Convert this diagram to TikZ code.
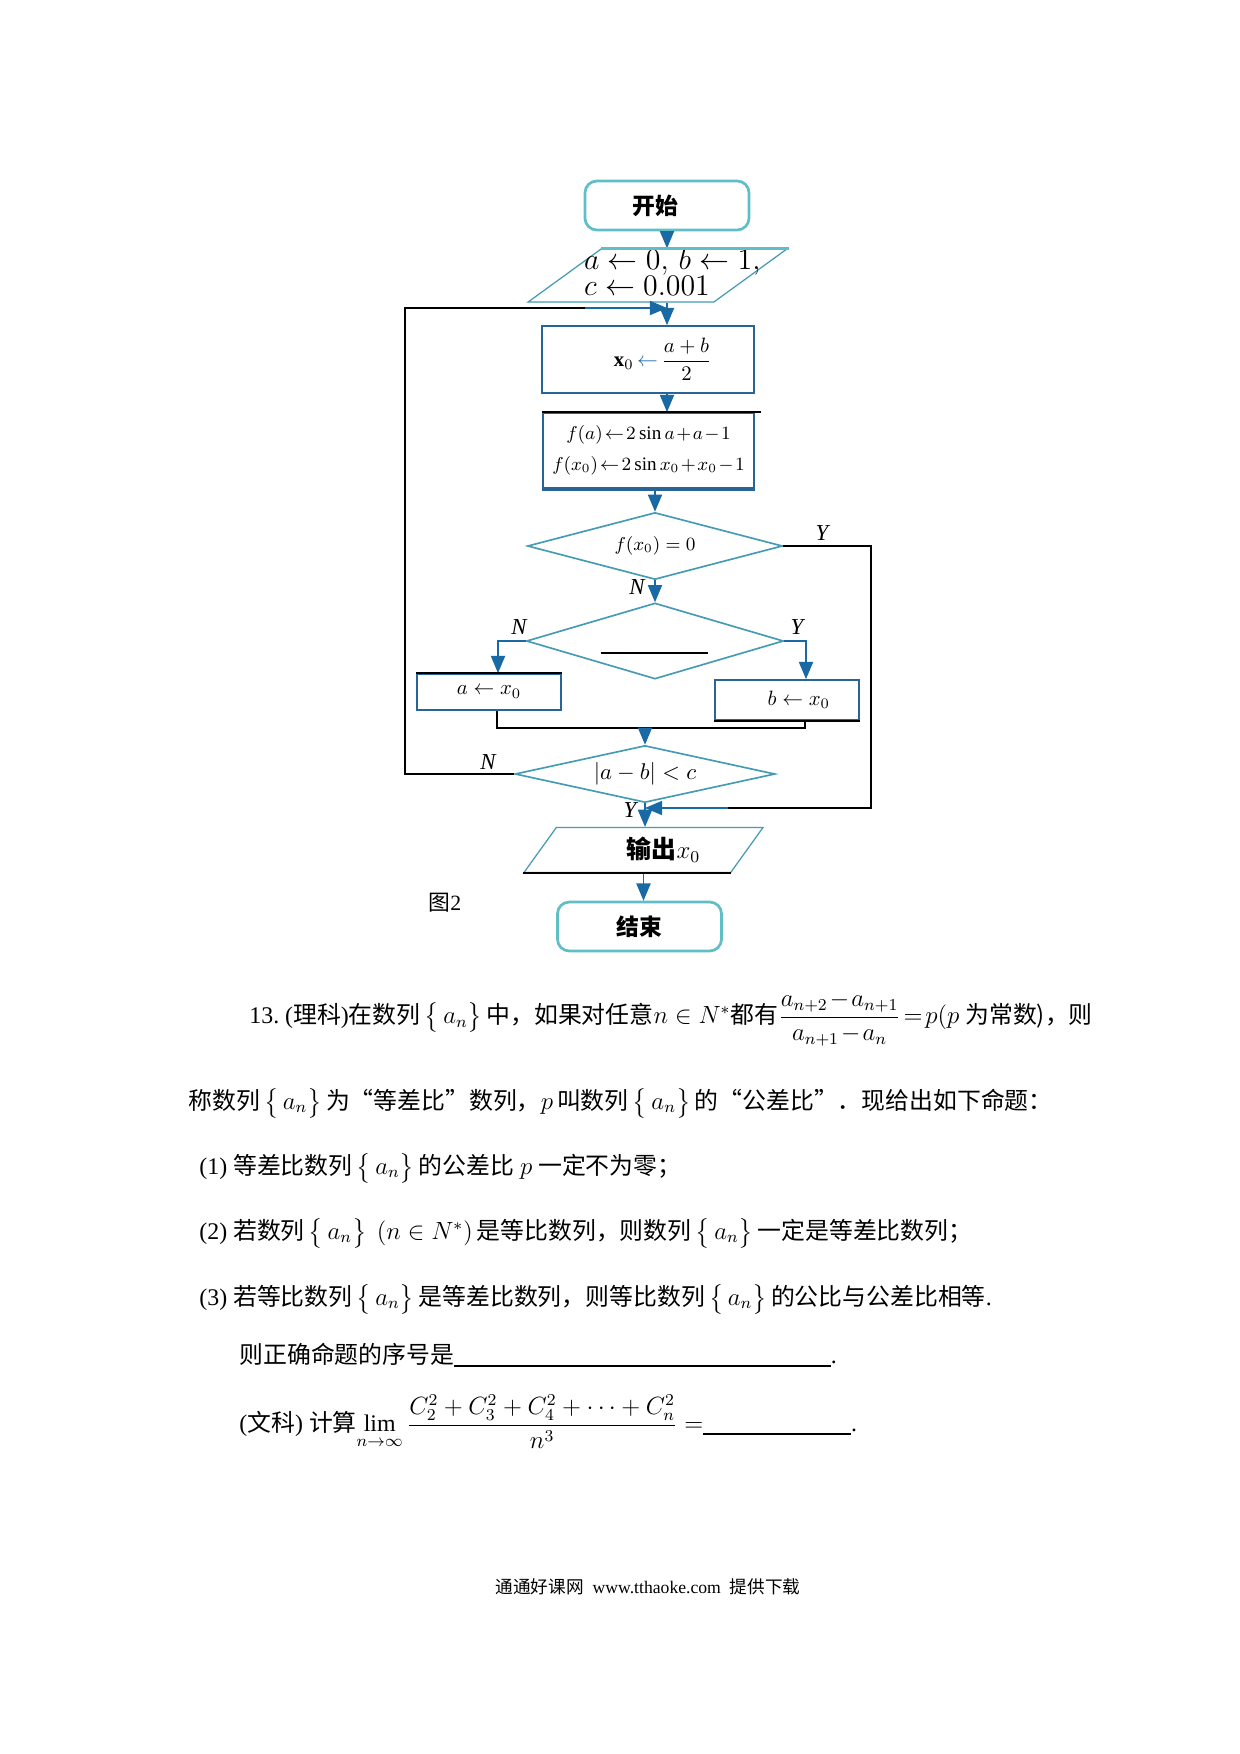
\documentclass[tikz,border=0pt]{standalone}
\usepackage{amsmath}
\usepackage{fontspec}
\setmainfont{Liberation Serif}
\newfontfamily\cjk{Noto Sans CJK SC}
\usepackage{tikz}
\usetikzlibrary{positioning,calc}
\usetikzlibrary{arrows}
\usetikzlibrary{shapes.geometric}
\definecolor{termteal}{RGB}{95,190,198}
\definecolor{dteal}{RGB}{70,155,180}
\definecolor{ablue}{RGB}{25,105,165}
\definecolor{bblue}{RGB}{40,100,150}
\newcommand{\pu}{0.16935mm}
\newcommand{\zh}[1]{{\cjk #1}}
\newcommand{\an}{\ensuremath{\,\bigl\{\,a_n\bigr\}\,}}
\newcommand{\tightmath}{\thickmuskip=2mu\medmuskip=1.5mu}
\begin{document}
\begin{tikzpicture}[x=0.16935mm,y=-0.16935mm,
  term/.style={draw=termteal,line width=1.3pt,rounded corners=2mm,minimum width=164*\pu,minimum height=49*\pu,font=\fontsize{11}{13}\selectfont\cjk\bfseries},
  io/.style={trapezium,trapezium left angle=36,trapezium right angle=144,trapezium stretches body,draw=dteal,line width=0.6pt,inner sep=0pt},
  proc/.style={rectangle,draw=bblue,line width=0.9pt,inner sep=0pt},
  decide/.style={diamond,draw=dteal,line width=0.8pt,inner sep=0pt,shape aspect=4},
  lab/.style={font=\fontsize{11}{13}\selectfont\itshape,inner sep=0pt},
  arr/.style={draw=ablue,line width=0.9pt,-triangle 45},
  conn/.style={draw=black,line width=0.7pt},
  txt/.style={anchor=west,inner sep=0pt,font=\fontsize{11.5}{14}\selectfont}]
  \fill[white] (0,0) rectangle (1240,1754);
  \useasboundingbox (0,0) rectangle (1240,1754);

  \node[term] (start) at (667,205.5) {开始\hspace*{4mm}};
  \node[io,minimum width=259*\pu,minimum height=47*\pu,font=\fontsize{14}{10.6}\selectfont] (init) at (657.5,275.5)
    {\makebox[0pt]{\hspace{5mm}$\begin{array}{@{}l@{}}a\leftarrow 0,\,b\leftarrow 1,\\ c\leftarrow 0.001\end{array}$}};
  \node[proc,minimum width=212*\pu,minimum height=67*\pu,font=\fontsize{10}{12}\selectfont] (x0box) at (648,359.5)
    {\hspace*{5mm}$\mathbf{x}_0$\,{\color{ablue}$\leftarrow$}\,$\dfrac{a+b}{2}$};
  \node[proc,minimum width=211*\pu,minimum height=75*\pu,align=center,font=\fontsize{9.2}{15}\selectfont] (fbox) at (648.5,450.5)
    {$\tightmath f(a)\leftarrow 2\sin a+a-1$\\$\tightmath f(x_0)\leftarrow 2\sin x_0+x_0-1$};
  \node[decide,minimum width=255*\pu,minimum height=67*\pu,font=\fontsize{9}{11}\selectfont] (d1) at (655,546) {$f(x_0)=0$};
  \node[decide,minimum width=257*\pu,minimum height=76*\pu] (d2) at (655,641) {};
  \node[proc,minimum width=144*\pu,minimum height=36*\pu,font=\fontsize{10}{12}\selectfont] (boxa) at (489,692) {$a\leftarrow x_0$};
  \node[proc,minimum width=144*\pu,minimum height=40*\pu,font=\fontsize{10}{12}\selectfont] (boxb) at (787,700) {\hspace*{4mm}$b\leftarrow x_0$};
  \node[decide,minimum width=260*\pu,minimum height=57*\pu,shape aspect=4.5,font=\fontsize{11}{13}\selectfont] (d3) at (645,774) {$|a-b|<c$};
  \node[io,minimum width=239*\pu,minimum height=45*\pu,trapezium left angle=38,trapezium right angle=142,font=\fontsize{12}{14}\selectfont] (out) at (643.5,850)
    {\makebox[0pt]{\hspace{6.8mm}{\cjk\bfseries 输出}$x_0$}};
  \node[term] (stop) at (639.5,926.5) {结束};
  \node[font=\fontsize{10.5}{12}\selectfont] (fig) at (445,903) {\zh{图}2};

  \coordinate (loop) at (667,308);
  \coordinate (lpl) at (405,308);
  \coordinate (lpm) at (585,308);
  \coordinate (merge) at (645,728);
  \coordinate (yc) at (871,808);
  \coordinate (ym) at (728,808);
  \coordinate (ymrg) at (645,808);

  \draw[arr] (start) -- (start |- init.north);
  \draw[arr] (start |- init.south) -- (start |- x0box.north);
  \draw[arr] (start |- x0box.south) -- (start |- fbox.north);
  \draw[arr] (d1 |- fbox.south) -- (d1.north);
  \draw[arr] (d1.south) -- (d2.north);
  \draw[arr] (d2.west) -| ($(boxa.north)+(9,0)$);
  \draw[arr] (d2.east) -| ($(boxb.north)+(19,0)$);
  \draw[conn] ($(boxa.south)+(8,0)$) |- (merge);
  \draw[conn] ($(boxb.south)+(18,0)$) |- (merge);
  \draw[arr] (merge) -- (d3.north);
  \draw[conn] (d3.west) -| (lpl) -- (lpm);
  \draw[arr] (lpm) -- (loop);
  \draw[conn] (d1.east) -| (yc) -- (ym);
  \draw[arr] (ym) -- (ymrg);
  \draw[arr] (d3.south) -- (d3.south |- out.north);
  \draw[arr] (out.south) -- (out.south |- stop.north);

  \draw[line width=2pt,bblue] (fbox.south west) -- (fbox.south east);
  \draw[conn] (fbox.north west) -- ($(fbox.north east)+(6,0)$);
  \draw[line width=1.3pt,termteal] (init.top left corner) -- (init.top right corner);
  \draw[conn] (out.bottom left corner) -- (out.bottom right corner);
  \draw[conn] (boxa.north west) -- (boxa.north east);
  \draw[conn] (boxb.south west) -- (boxb.south east);
  \draw[line width=0.9pt] ($(d2.center)+(-54,12)$) -- ($(d2.center)+(53,12)$);

  \node[lab] (yes1) at (822,533) {Y};
  \node[lab] (no1) at (637,587) {N};
  \node[lab] (no2) at (519,627) {N};
  \node[lab] (yes2) at (797,627) {Y};
  \node[lab] (no3) at (488,762) {N};
  \node[lab] (yes3) at (630,810) {Y};

  \node[txt] (q1) at (249,1019) {13.\ (\zh{理科})\zh{在数列}\an\zh{中，如果对任意}$n\in N^{*}$\zh{都有}$\tightmath\dfrac{a_{n+2}-a_{n+1}}{a_{n+1}-a_n}=p(p$\ \zh{为常数)，则}};
  \node[txt] (q2) at (188,1103) {\zh{称数列}\an\zh{为“等差比”数列，}$p$\,\zh{叫数列}\an\zh{的“公差比”．现给出如下命题：}};
  \node[txt] (q3) at (199,1168) {(1) \zh{等差比数列}\an\zh{的公差比} $p$ \zh{一定不为零；}};
  \node[txt] (q4) at (199,1233) {(2) \zh{若数列}\an\ $(n\in N^{*})$\,\zh{是等比数列，则数列}\an\zh{一定是等差比数列；}};
  \node[txt] (q5) at (199,1299) {(3) \zh{若等比数列}\an\zh{是等差比数列，则等比数列}\an\zh{的公比与公差比相等}.};
  \node[txt] (q6) at (239,1355) {\zh{则正确命题的序号是}\rule[-1.5pt]{63.8mm}{0.8pt}.};
  \node[txt] (q7) at (239,1422) {(\zh{文科}) \zh{计算}$\displaystyle\lim_{n\to\infty}\frac{C_2^2+C_3^2+C_4^2+\cdots+C_n^2}{n^3}=$\rule[-1.5pt]{25mm}{0.8pt}.};
  \node[font=\fontsize{8.5}{10}\selectfont] (foot) at (648,1587) {\zh{通通好课网}\ \ www.tthaoke.com\ \ \zh{提供下载}};
\end{tikzpicture}
\end{document}
